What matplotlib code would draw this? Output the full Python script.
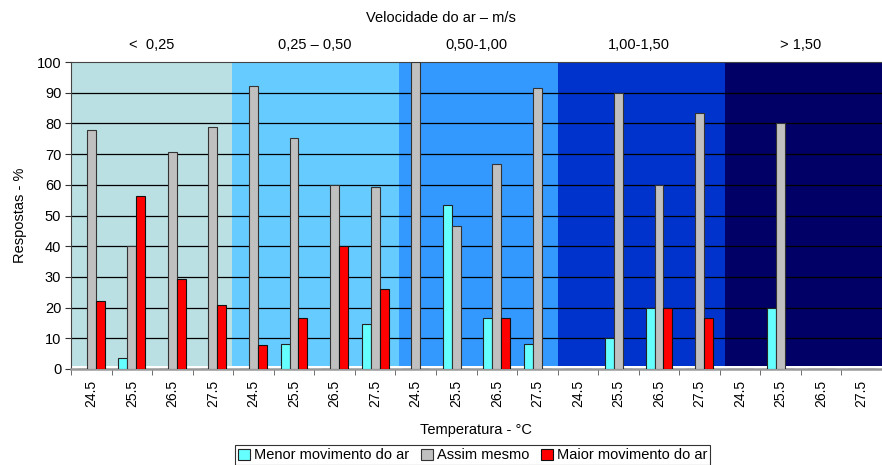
import matplotlib
matplotlib.use("Agg")
import matplotlib.pyplot as plt
import numpy as np

# data
temps = ["24.5", "25.5", "26.5", "27.5"]
groups = ["<  0,25", "0,25 \u2013 0,50", "0,50-1,00", "1,00-1,50", "> 1,50"]
group_colors = ["#BBE0E3", "#66CCFF", "#3399FF", "#0033CC", "#000066"]

menor = [0, 3.7, 0, 0,
         0, 8.3, 0, 14.8,
         0, 53.3, 16.7, 8.3,
         0, 10, 20, 0,
         0, 20, 0, 0]
assim = [78, 40, 70.8, 79,
         92.3, 75.4, 60, 59.3,
         100, 46.7, 66.7, 91.7,
         0, 90, 60, 83.3,
         0, 80, 0, 0]
maior = [22.2, 56.3, 29.2, 21,
         7.7, 16.7, 40, 25.9,
         0, 0, 16.7, 0,
         0, 0, 20, 16.7,
         0, 0, 0, 0]

plt.rcParams['font.family'] = ['Liberation Sans', 'DejaVu Sans']

fig = plt.figure(figsize=(8.82, 4.65), dpi=100)
ax = fig.add_axes([0.0805, 0.2065, 0.9195, 0.660])

n = len(menor)
x = np.arange(n)

# background bands (slightly offset, as in the original)
band_edges = [-0.5, 3.47, 7.59, 11.51, 15.63, 19.5]
for k, col in enumerate(group_colors):
    ax.bar(band_edges[k], 99, width=band_edges[k + 1] - band_edges[k], bottom=1,
           align='edge', color=col, linewidth=0, zorder=0)

for y in range(10, 100, 10):
    ax.axhline(y, color='black', lw=0.9, zorder=1)

w = 0.22
ax.bar(x - w, menor, w, color='#66FFFF', edgecolor='#222222', lw=0.8, zorder=3,
       label='Menor movimento do ar')
ax.bar(x, assim, w, color='#C0C0C0', edgecolor='#333333', lw=0.8, zorder=3,
       label='Assim mesmo')
ax.bar(x + w, maior, w, color='#FF0000', edgecolor='#111111', lw=0.8, zorder=3,
       label='Maior movimento do ar')

ax.set_xlim(-0.5, n - 0.5)
ax.set_ylim(0, 100)
ax.set_yticks(range(0, 101, 10))
ax.tick_params(axis='y', labelsize=10.5, length=4, color='#333333', pad=3)
ax.set_xticks(x)
ax.set_xticklabels(temps * len(groups), rotation=90, fontsize=10)
ax.tick_params(axis='x', length=0, pad=8)
ax.set_xticks(np.arange(-0.5, n, 1), minor=True)
ax.tick_params(axis='x', which='minor', length=4, color='#555555')

ax.spines['right'].set_visible(False)
ax.spines['top'].set_color('#444444')
ax.spines['left'].set_color('#444444')
ax.spines['bottom'].set_color('#999999')
ax.spines['bottom'].set_linewidth(1.8)

for k, g in enumerate(groups):
    ax.text(4 * k + 1.5, 105.5, g, ha='center', va='center', fontsize=10.5)

fig.text(0.5, 0.961, "Velocidade do ar \u2013 m/s", ha='center', va='center', fontsize=10.5)
ax.set_ylabel("Respostas - %", fontsize=10.5, labelpad=7)
fig.text(0.54, 0.075, "Temperatura - \u00b0C", ha='center', va='center', fontsize=10.5)

leg = fig.legend(loc='center', bbox_to_anchor=(0.536, 0.021), ncol=3, fontsize=10.5,
                 frameon=True, fancybox=False, edgecolor='black', handlelength=0.8,
                 handleheight=0.8, handletextpad=0.3, columnspacing=0.8,
                 borderpad=0.2, borderaxespad=0)
leg.get_frame().set_linewidth(0.8)

fig.savefig("out.png", dpi=100)
